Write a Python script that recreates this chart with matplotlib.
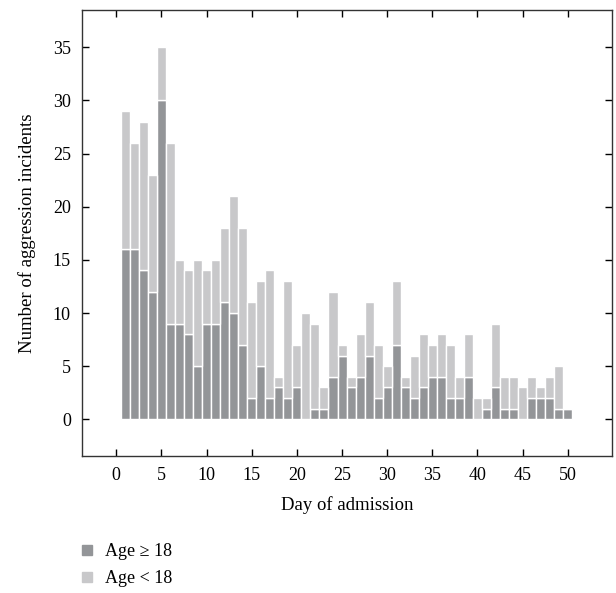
import matplotlib
matplotlib.use("Agg")
import matplotlib.pyplot as plt
from matplotlib.lines import Line2D
import numpy as np

days = list(range(1, 51))
adult = [16, 16, 14, 12, 30, 9, 9, 8, 5, 9,
         9, 11, 10, 7, 2, 5, 2, 3, 2, 3,
         0, 1, 1, 4, 6, 3, 4, 6, 2, 3,
         7, 3, 2, 3, 4, 4, 2, 2, 4, 0,
         1, 3, 1, 1, 0, 2, 2, 2, 1, 1]
total = [29, 26, 28, 23, 35, 26, 15, 14, 15, 14,
         15, 18, 21, 18, 11, 13, 14, 4, 13, 7,
         10, 9, 3, 12, 7, 4, 8, 11, 7, 5,
         13, 4, 6, 8, 7, 8, 7, 4, 8, 2,
         2, 9, 4, 4, 3, 4, 3, 4, 5, 1]
minor = [t - a for t, a in zip(total, adult)]
xticks = list(range(0, 51, 5))
yticks = list(range(0, 36, 5))

dark = "#939598"
light = "#c8c8ca"

plt.rcParams['font.family'] = ['Liberation Serif', 'DejaVu Serif']
fig = plt.figure(figsize=(6.16, 5.93), dpi=100)
ax = fig.add_axes([82/616, 1-456/593, (612-82)/616, (456-10)/593])

ax.bar(days, adult, width=1.0, color=dark, edgecolor="white", linewidth=1.0, label="Age ≥ 18")
ax.bar(days, minor, bottom=adult, width=1.0, color=light, edgecolor="white", linewidth=1.0, label="Age < 18")

ax.set_xlim(-3.8, 54.9)
ax.set_ylim(-3.45, 38.5)
ax.set_xticks(xticks)
ax.set_yticks(yticks)
ax.tick_params(direction="in", top=True, right=True, length=5, width=1, labelsize=13, pad=8)
for s in ax.spines.values():
    s.set_linewidth(1.0)
    s.set_color("#333333")
ax.set_xlabel("Day of admission", fontsize=13.5, labelpad=9)
ax.set_ylabel("Number of aggression incidents", fontsize=13.5, labelpad=12)

handles = [Line2D([], [], marker="s", linestyle="none", markersize=7, color=dark),
           Line2D([], [], marker="s", linestyle="none", markersize=7, color=light)]
fig.legend(handles, ["Age ≥ 18", "Age < 18"], loc="upper left",
           bbox_to_anchor=(80/616, 1-543/593), frameon=False, fontsize=13,
           handlelength=0.8, handletextpad=0.6, labelspacing=0.58, borderaxespad=0,
           borderpad=0)

fig.savefig("out.png", dpi=100)
